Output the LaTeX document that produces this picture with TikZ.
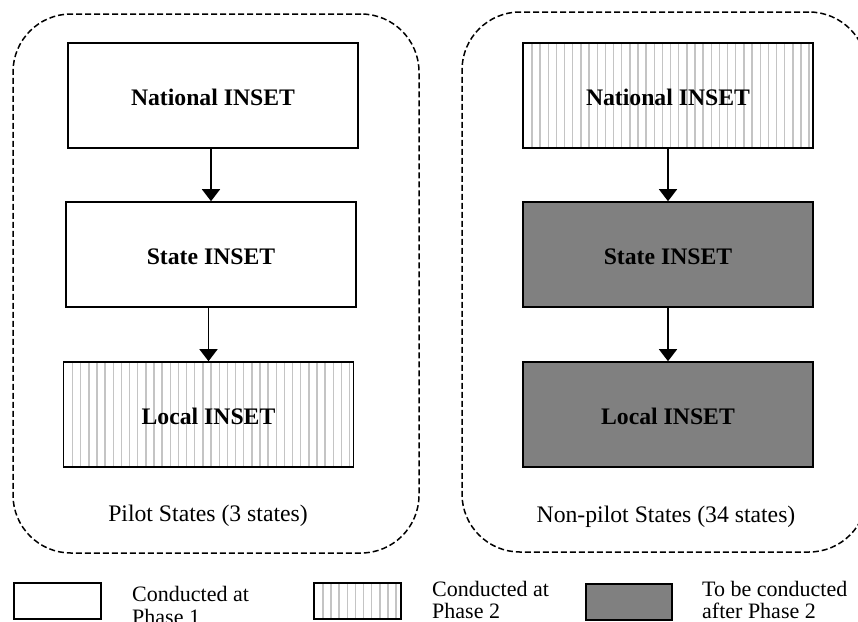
\documentclass[tikz,border=0pt]{standalone}
\usepackage{fontspec}
\setmainfont{Liberation Serif}
\usetikzlibrary{arrows.meta}
\definecolor{hatchgray}{HTML}{C4C4C4}
\definecolor{darkfill}{HTML}{808080}
\begin{document}
\begin{tikzpicture}[x=1pt,y=-1pt,
  hatchfill/.style={fill=white, path picture={
      \foreach \i in {0,...,40}{
        \draw[hatchgray, line width=1.4pt]
          ([xshift=\i*8.15pt+9pt]path picture bounding box.north west) --
          ([xshift=\i*8.15pt+9pt]path picture bounding box.south west);}}},
  box/.style={draw=black, line width=1.6pt, minimum width=290pt, minimum height=105pt,
      inner sep=0pt, font=\fontsize{23.7}{28}\selectfont\bfseries,
      text height=19pt, text depth=0pt},
  plainbox/.style={box, fill=white},
  hatchbox/.style={box, hatchfill},
  darkbox/.style={box, fill=darkfill},
  arr/.style={line width=1.6pt, -{Triangle[width=18pt,length=12pt]}},
  groupframe/.style={draw=black, line width=1.5pt, dash pattern=on 6pt off 3pt,
      rounded corners=58pt, inner sep=0pt},
  grouplabel/.style={anchor=base, font=\fontsize{23.7}{28}\selectfont, inner sep=0pt},
  legbox/.style={draw=black, line width=1.6pt, minimum width=87pt, minimum height=36pt,
      inner sep=0pt, anchor=north west},
  legtext/.style={anchor=base west, font=\fontsize{22}{23}\selectfont, inner sep=0pt},
]
\useasboundingbox (0,0) rectangle (858,621);
\clip (0,0) rectangle (858,621);

% group frames
\node[groupframe, minimum width=406pt, minimum height=539pt] (lgroup) at (216,283.5) {};
\node[groupframe, minimum width=405pt, minimum height=540pt] (rgroup) at (664.5,282) {};

% left column
\node[plainbox] (ln) at (213,95.5) {National INSET};
\node[plainbox] (ls) at (211,254.5) {State INSET};
\node[hatchbox] (ll) at (208.5,414.5) {Local INSET};

% right column
\node[hatchbox] (rn) at (668,95.5) {National INSET};
\node[darkbox] (rs) at (668,254.5) {State INSET};
\node[darkbox] (rl) at (668,414.5) {Local INSET};

% arrows
\draw[arr] (ln.south -| ls.north) -- (ls.north);
\draw[arr] (ls.south -| ll.north) -- (ll.north);
\draw[arr] (rn.south) -- (rs.north);
\draw[arr] (rs.south) -- (rl.north);

% group labels
\node[grouplabel] (lgl) at (208,521) {Pilot States (3 states)};
\node[grouplabel] (rgl) at (666,522) {Non-pilot States (34 states)};

% legend
\node[legbox, fill=white] (k1) at (13,582) {};
\node[legbox, hatchfill] (k2) at (313,582) {};
\node[legbox, fill=darkfill, minimum width=86pt] (k3) at (585,583) {};

\node[legtext] (k1a) at (132,601) {Conducted at};
\node[legtext] (k1b) at (132,624) {Phase 1};
\node[legtext] (k2a) at (432,596) {Conducted at};
\node[legtext] (k2b) at (432,618) {Phase 2};
\node[legtext] (k3a) at (702,596) {To be conducted};
\node[legtext] (k3b) at (702,618) {after Phase 2};
\end{tikzpicture}
\end{document}
